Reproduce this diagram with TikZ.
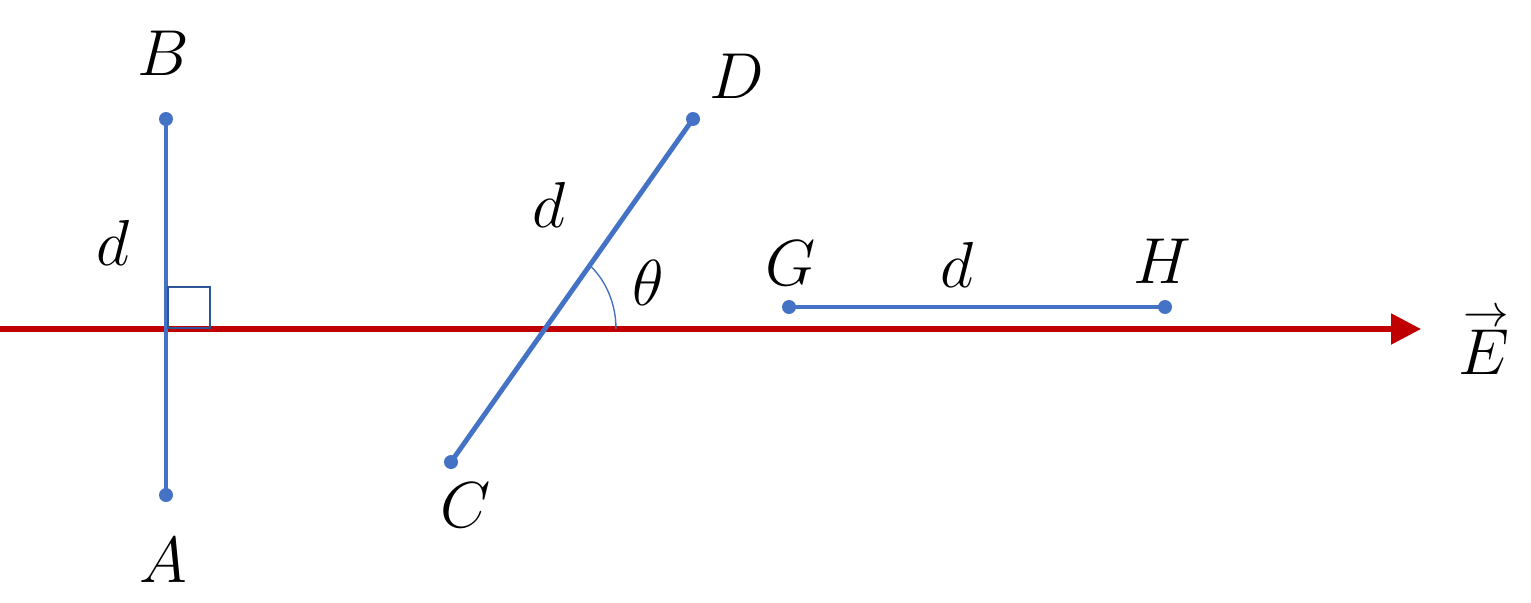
\RequirePackage{fix-cm}
\documentclass[tikz,border=0pt]{standalone}
\usetikzlibrary{arrows.meta}
\definecolor{segblue}{HTML}{4472C4}
\definecolor{fieldred}{HTML}{C00000}
\definecolor{boxblue}{HTML}{2F5597}
\begin{document}
\begin{tikzpicture}[x=0.02cm,y=-0.02cm,
  seg/.style={segblue,line width=2.8pt},
  dot/.style={circle,fill=segblue,inner sep=0pt,minimum size=0.28cm},
  lbl/.style={font=\fontsize{37}{40}\selectfont,inner sep=0pt},
  field/.style={fieldred,line width=3pt,-{Triangle[length=0.6cm,width=0.6cm]}},
  rightangle/.style={boxblue,line width=1.1pt},
  anglearc/.style={segblue,line width=0.8pt}]
\useasboundingbox (0,0) rectangle (1531,602);
% field
\coordinate (L) at (0,329);
\coordinate (R) at (1421,329);
\draw[field] (L) -- (R);
% points
\node[dot] (A) at (166,495) {};
\node[dot] (B) at (166,119) {};
\node[dot] (C) at (451,462) {};
\node[dot] (D) at (693,119) {};
\node[dot] (G) at (789,307) {};
\node[dot] (H) at (1165,307) {};
% segments
\draw[seg] (A.center) -- (B.center);
\draw[seg] (C.center) -- (D.center);
\draw[seg] (G.center) -- (H.center);
% right angle
\draw[rightangle] (168,287) rectangle (210,328);
% angle arc
\coordinate (arcstart) at (616,329);
\draw[anglearc] (arcstart) arc[start angle=0,end angle=50.8,x radius=71,y radius=-82];
% labels
\node[lbl] (lB) at (163,53) {$B$};
\node[lbl] (lA) at (163,560) {$A$};
\node[lbl] (ld1) at (113,243) {$d$};
\node[lbl] (ld2) at (549,205) {$d$};
\node[lbl] (lth) at (648,283) {$\theta$};
\node[lbl] (lD) at (737,76) {$D$};
\node[lbl] (lC) at (466,505) {$C$};
\node[lbl] (lG) at (791,263) {$G$};
\node[lbl] (ld3) at (957,265) {$d$};
\node[lbl] (lH) at (1162,261) {$H$};
\node[lbl] (lE) at (1484,341) {$\stackrel{\rightarrow}{E}$};
\end{tikzpicture}
\end{document}
